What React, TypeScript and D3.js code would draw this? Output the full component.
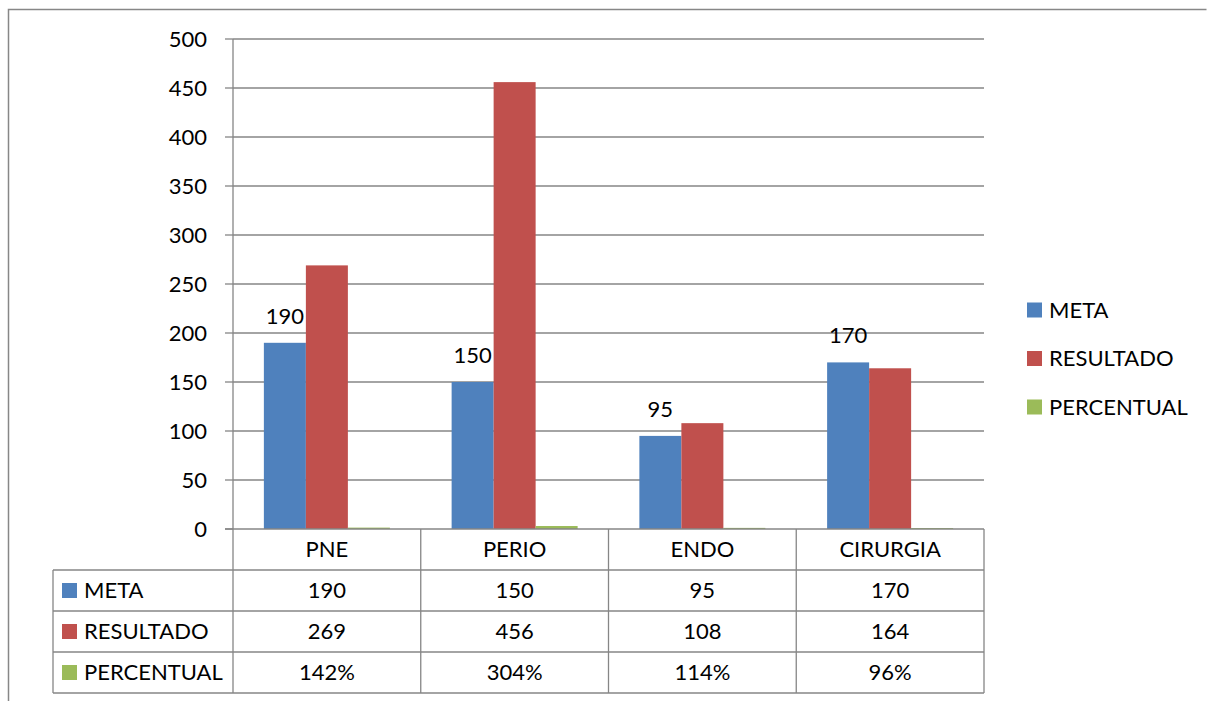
import React from "react";
import * as d3 from "d3";

const categories = ["PNE", "PERIO", "ENDO", "CIRURGIA"];
const seriesNames = ["META", "RESULTADO", "PERCENTUAL"];
const meta = [190, 150, 95, 170];
const resultado = [269, 456, 108, 164];
const percentual = [1.42, 3.04, 1.14, 0.96];
const percentualLabels = ["142%", "304%", "114%", "96%"];
const yTicks = [0, 50, 100, 150, 200, 250, 300, 350, 400, 450, 500];
const colors = ["#4F81BD", "#C0504D", "#9BBB59"];

const W = 1207;
const H = 701;
const FONT = "Lato, 'Open Sans', sans-serif";
const FS = 22;

export default function App() {
  const left = 233, right = 984, top = 39, bottom = 529;
  const y = d3.scaleLinear().domain([0, 500]).range([bottom, top]);
  const x = d3.scaleBand().domain(categories).range([left, right]).paddingInner(0).paddingOuter(0);
  const xs = d3.scaleBand().domain(seriesNames).range([0, x.bandwidth()]).paddingInner(0).paddingOuter(0.735);
  const values = [meta, resultado, percentual];
  const tableLeft = 53;
  const rowH = 41;
  const rowTops = [bottom, bottom + rowH, bottom + 2 * rowH, bottom + 3 * rowH];
  const tableBottom = bottom + 4 * rowH;
  const grid = "#868686";
  const rowTexts = [meta.map(String), resultado.map(String), percentualLabels];

  return (
    <svg width={W} height={H} style={{ position: "absolute", left: 0, top: 0, background: "#fff" }} fontFamily={FONT}>
      <rect x={0} y={0} width={W} height={H} fill="#fff" />
      {/* outer border */}
      <path d={`M8.5,${H} V9.5 H1206.5`} fill="none" stroke="#878787" strokeWidth={1.5} />
      {/* gridlines */}
      {yTicks.map((t) => (
        <g key={t}>
          {t > 0 && <line x1={left} x2={right} y1={y(t)} y2={y(t)} stroke={grid} strokeWidth={1.3} />}
          <line x1={left - 8} x2={left} y1={y(t)} y2={y(t)} stroke={grid} strokeWidth={1.3} />
          <text x={207} y={y(t)} dy="0.35em" textAnchor="end" fontSize={FS} fill="#000">{t}</text>
        </g>
      ))}
      {/* bars */}
      {values.map((vals, si) =>
        categories.map((c, ci) => {
          const bx = (x(c) as number) + (xs(seriesNames[si]) as number);
          const by = y(vals[ci]);
          return (
            <rect key={`${si}-${ci}`} x={bx} y={by} width={xs.bandwidth()} height={bottom - by} fill={colors[si]} />
          );
        })
      )}
      {/* data labels META */}
      {categories.map((c, ci) => {
        const bx = (x(c) as number) + (xs("META") as number) + xs.bandwidth() / 2;
        return (
          <text key={c} x={bx} y={y(meta[ci]) - 27} dy="0.35em" textAnchor="middle" fontSize={FS} fill="#000">{meta[ci]}</text>
        );
      })}
      {/* y axis */}
      <line x1={left} x2={left} y1={top} y2={tableBottom} stroke={grid} strokeWidth={1.3} />
      {/* table horizontal lines */}
      <line x1={left - 8} x2={right} y1={bottom} y2={bottom} stroke={grid} strokeWidth={1.3} />
      {rowTops.slice(1).map((ry) => (
        <line key={ry} x1={tableLeft} x2={right} y1={ry} y2={ry} stroke={grid} strokeWidth={1.3} />
      ))}
      <line x1={tableLeft} x2={right} y1={tableBottom} y2={tableBottom} stroke={grid} strokeWidth={1.3} />
      <line x1={tableLeft} x2={tableLeft} y1={rowTops[1]} y2={tableBottom} stroke={grid} strokeWidth={1.3} />
      {categories.map((c) => (
        <line key={c} x1={(x(c) as number) + x.bandwidth()} x2={(x(c) as number) + x.bandwidth()} y1={bottom} y2={tableBottom} stroke={grid} strokeWidth={1.3} />
      ))}
      {/* table header */}
      {categories.map((c) => (
        <text key={c} x={(x(c) as number) + x.bandwidth() / 2} y={bottom + rowH / 2} dy="0.35em" textAnchor="middle" fontSize={FS} fill="#000">{c}</text>
      ))}
      {/* table rows */}
      {seriesNames.map((s, si) => (
        <g key={s}>
          <rect x={62} y={rowTops[si + 1] + rowH / 2 - 7.5} width={15} height={15} fill={colors[si]} />
          <text x={84} y={rowTops[si + 1] + rowH / 2} dy="0.35em" fontSize={FS} fill="#000">{s}</text>
          {categories.map((c, ci) => (
            <text key={c} x={(x(c) as number) + x.bandwidth() / 2} y={rowTops[si + 1] + rowH / 2} dy="0.35em" textAnchor="middle" fontSize={FS} fill="#000">{rowTexts[si][ci]}</text>
          ))}
        </g>
      ))}
      {/* legend */}
      {seriesNames.map((s, si) => (
        <g key={s}>
          <rect x={1027} y={310 + si * 48.5 - 7.5} width={15} height={15} fill={colors[si]} />
          <text x={1049} y={310 + si * 48.5} dy="0.35em" fontSize={FS} fill="#000">{s}</text>
        </g>
      ))}
    </svg>
  );
}
